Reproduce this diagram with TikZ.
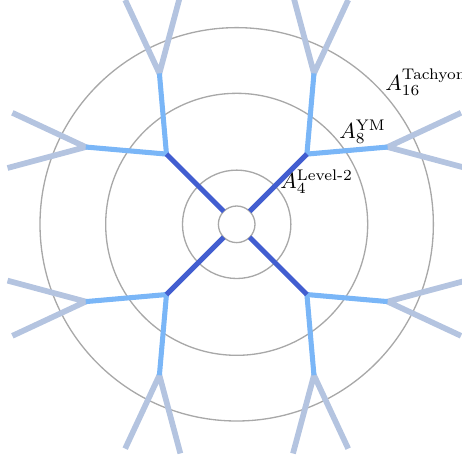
\documentclass[tikz,border=0pt]{standalone}
\usepackage{amsmath}
\definecolor{trunkblue}{RGB}{66,94,208}
\definecolor{branchblue}{RGB}{122,182,247}
\definecolor{leafblue}{RGB}{180,196,224}
\definecolor{ringgray}{RGB}{168,168,168}
\begin{document}
\begin{tikzpicture}[ring/.style={draw=ringgray,line width=0.6pt},
  trunk/.style={trunkblue,line width=2.3pt},
  branch/.style={branchblue,line width=2.3pt},
  leaf/.style={leafblue,line width=2.6pt},
  lab/.style={anchor=base west,inner sep=0pt}]
\useasboundingbox (-3.787,-3.755) rectangle (3.605,3.589);
\clip (-3.787,-3.755) rectangle (3.605,3.589);
\foreach \r in {0.293,0.867,2.096,3.147}
  \draw[ring](0,0) circle (\r);
\foreach \a in {45,135,225,315}{
  \coordinate (r\a) at (\a:0.293);
  \path (r\a) ++(\a:1.296) coordinate (d\a);
  \path (d\a) ++({\a+40}:1.296) coordinate (p\a);
  \path (d\a) ++({\a-40}:1.296) coordinate (m\a);
  \path (p\a) ++({\a+60}:1.296) coordinate (pp\a);
  \path (p\a) ++({\a+20}:1.296) coordinate (pm\a);
  \path (m\a) ++({\a-20}:1.296) coordinate (mp\a);
  \path (m\a) ++({\a-60}:1.296) coordinate (mm\a);
  \draw[leaf](pp\a)--(p\a)--(pm\a) (mp\a)--(m\a)--(mm\a);
  \draw[branch](p\a)--(d\a)--(m\a);
  \draw[trunk](r\a)--(d\a);
}
\node[lab] (lvl) at (0.693,0.576){$A_4^{\text{Level-2}}$};
\node[lab] (ym) at (1.637,1.376){$A_8^{\mathrm{YM}}$};
\node[lab] (tach) at (2.373,2.149){$A_{16}^{\mathrm{Tachyon}}$};
\end{tikzpicture}
\end{document}
